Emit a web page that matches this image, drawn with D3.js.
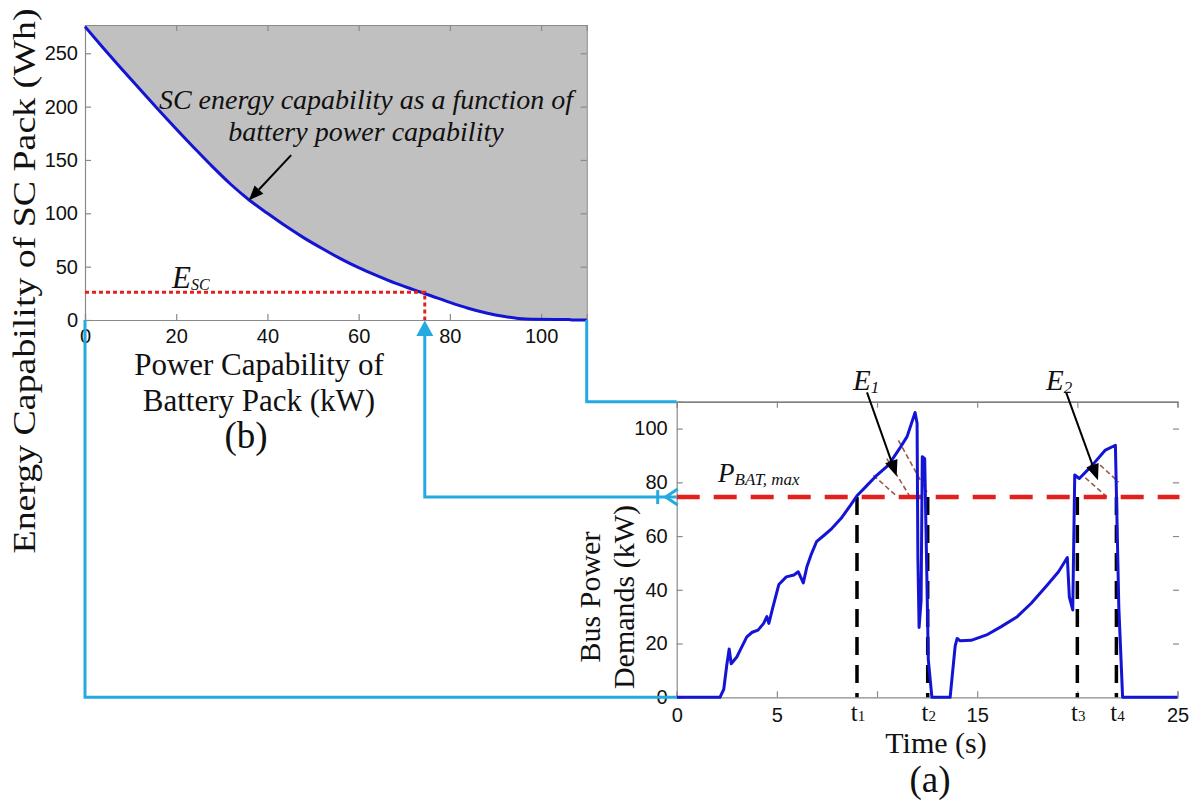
<!DOCTYPE html>
<html><head><meta charset="utf-8">
<script src="https://cdn.jsdelivr.net/npm/d3@7"></script>
<style>
html,body{margin:0;padding:0;background:#fff;}
svg{display:block;}
.serif{font-family:"Liberation Serif","Times New Roman",serif;fill:#111;}
</style></head>
<body>
<svg id="c" width="1195" height="803"></svg>
<script>
// ---------- DATA ----------
// (b) SC energy capability vs battery power capability
const powerCap = [0, 4, 8, 12, 16, 20, 24, 28, 32, 36, 40, 44, 48, 52, 56, 60, 64, 68, 72, 76, 80, 84, 88, 92, 95, 98, 106, 107, 110];
const scEnergy = [275, 255, 235.5, 216.5, 197.5, 179, 161, 143.5, 127, 112.5, 100, 88, 77, 67, 57.5, 49, 41.5, 34.5, 28.5, 22.5, 16.5, 11, 6.5, 3.2, 1.5, 0.7, 0.5, 0, 0];
const topXTicks = [0, 20, 40, 60, 80, 100];
const topYTicks = [0, 50, 100, 150, 200, 250];

// (a) Bus power demand vs time
const busTime  = [0, 2.16, 2.35, 2.5, 2.62, 2.72, 3.0, 3.3, 3.5, 3.77, 4.06, 4.34, 4.5, 4.6, 4.8, 5.1, 5.47, 5.85, 6.07, 6.32, 6.5, 6.7, 6.98, 7.36, 7.74, 8.2, 8.68, 9.0, 9.43, 10.0, 10.57, 11.13, 11.5, 11.9, 12.0, 12.04, 12.1, 12.2, 12.26, 12.38, 12.5, 12.56, 12.74, 13.65, 13.9, 14.0, 14.15, 14.7, 15.47, 16.2, 17.0, 17.7, 18.5, 19.06, 19.5, 19.6, 19.77, 19.87, 20.1, 20.75, 21.4, 21.9, 22.07, 22.26, 25];
const busPower = [0, 0, 3, 12, 18, 12.5, 15, 19.5, 22.5, 24.2, 25, 27.5, 30, 27.5, 33.5, 42, 44.8, 45.5, 46.7, 42.6, 48.6, 52.9, 57.9, 60.3, 62.8, 66.5, 71.5, 75, 78.3, 82.7, 86.4, 92.6, 97, 106, 102, 52, 26, 36, 89.5, 88.8, 40, 14, 0, 0, 19, 21.9, 21, 21.2, 23.2, 26.3, 30, 35, 41.8, 46.7, 52, 37.4, 32.5, 82.7, 81.4, 86.4, 92, 93.8, 33.7, 0, 0];
const botYTicks = [0, 20, 40, 60, 80, 100];
const botXTicks = [0, 5, 10, 15, 20, 25];
const botXTickLabels = ["0", "5", "", "15", "", "25"];
const eventTimes = [9.0, 12.53, 20.0, 21.95];
const eventNames = ["1", "2", "3", "4"];
const pBatMax = 74.5;   // kW
const eSc = 26;         // Wh
// hatch strokes of E1 and E2 (t0, P0, t1, P1)
const hatchE1 = [[9.82, 82.6, 10.99, 74.8], [10.49, 88.8, 11.65, 74.6], [11.07, 95.6, 12.49, 76.4]];
const hatchE2 = [[20.4, 81.7, 21.47, 74.6], [21.14, 86.4, 22.06, 80.1]];

// ---------- SCALES ----------
const svg = d3.select("#c");
const xTop = d3.scaleLinear().domain([0, 110]).range([85, 586.7]);
const yTop = d3.scaleLinear().domain([0, 276.5]).range([320, 25]);
const xBot = d3.scaleLinear().domain([0, 25]).range([676.7, 1177.5]);
const yBot = d3.scaleLinear().domain([0, 110]).range([697.3, 401.7]);

const BLUE = "#1414d4", CYAN = "#25a9e1", RED = "#e3211c", AX = "#8a8a8a";
const topData = powerCap.map((p, i) => [p, scEnergy[i]]);
const botData = busTime.map((t, i) => [t, busPower[i]]);

// ---------- (b) TOP CHART ----------
svg.append("path")
  .datum(topData)
  .attr("fill", "#c0c0c0")
  .attr("d", d3.area().curve(d3.curveMonotoneX).x(d => xTop(d[0])).y0(yTop(276.5)).y1(d => yTop(d[1])));

function styleAxis(g, showText) {
  g.select(".domain").attr("stroke", AX).attr("stroke-width", 1.2);
  g.selectAll(".tick line").attr("stroke", AX).attr("stroke-width", 1.2);
  g.selectAll("text").attr("font-family", '"Liberation Sans", Arial, sans-serif').attr("font-size", 20).attr("fill", "#111");
  if (!showText) g.selectAll("text").remove();
}
svg.append("g").attr("transform", `translate(0,${yTop(0)})`)
  .call(d3.axisBottom(xTop).tickValues(topXTicks).tickSize(-6).tickPadding(9).tickFormat(d3.format("d")))
  .call(g => styleAxis(g, true));
svg.append("g").attr("transform", `translate(0,${yTop(276.5)})`)
  .call(d3.axisTop(xTop).tickValues(topXTicks).tickSize(-6))
  .call(g => styleAxis(g, false));
svg.append("g").attr("transform", `translate(${xTop(0)},0)`)
  .call(d3.axisLeft(yTop).tickValues(topYTicks).tickSize(-6).tickPadding(7).tickFormat(d3.format("d")))
  .call(g => styleAxis(g, true));
svg.append("g").attr("transform", `translate(${xTop(110)},0)`)
  .call(d3.axisRight(yTop).tickValues(topYTicks).tickSize(-6))
  .call(g => styleAxis(g, false));

svg.append("path").datum(topData)
  .attr("fill", "none").attr("stroke", BLUE).attr("stroke-width", 3)
  .attr("d", d3.line().curve(d3.curveMonotoneX).x(d => xTop(d[0])).y(d => yTop(d[1])));

// red dotted E_SC guide
svg.append("path")
  .attr("fill", "none").attr("stroke", RED).attr("stroke-width", 3).attr("stroke-dasharray", "4,3")
  .attr("d", `M${xTop(0)},${yTop(eSc)}H${xTop(pBatMax)}V${yTop(0)}`);

// ---------- (a) BOTTOM CHART ----------
svg.append("g").attr("transform", `translate(0,${yBot(0)})`)
  .call(d3.axisBottom(xBot).tickValues(botXTicks).tickSize(-6).tickPadding(11).tickFormat((d, i) => botXTickLabels[i]))
  .call(g => styleAxis(g, true));
svg.append("g").attr("transform", `translate(0,${yBot(110)})`)
  .call(d3.axisTop(xBot).tickValues(botXTicks.slice(1, 5)).tickSize(-6))
  .call(g => { styleAxis(g, false); g.select(".domain").attr("stroke", "#555"); });
svg.append("g").attr("transform", `translate(${xBot(0)},0)`)
  .call(d3.axisLeft(yBot).tickValues(botYTicks).tickSize(-6).tickPadding(9).tickFormat(d3.format("d")))
  .call(g => styleAxis(g, true));
svg.append("g").attr("transform", `translate(${xBot(25) + 1.5},0)`)
  .call(d3.axisRight(yBot).tickValues(botYTicks.slice(1)).tickSize(-6))
  .call(g => { styleAxis(g, false); g.select(".domain").remove(); });

// event tick labels t1..t4
const evLab = svg.append("g").selectAll("text").data(eventTimes).join("text")
  .attr("class", "serif").attr("x", d => xBot(d) + 1).attr("y", yBot(0) + 24)
  .attr("text-anchor", "middle").attr("font-size", 25);
evLab.append("tspan").text("t");
evLab.append("tspan").attr("font-size", 15).text((d, i) => eventNames[i]);

// hatch lines
svg.append("g").selectAll("line").data(hatchE1.concat(hatchE2)).join("line")
  .attr("x1", d => xBot(d[0])).attr("y1", d => yBot(d[1]))
  .attr("x2", d => xBot(d[2])).attr("y2", d => yBot(d[3]))
  .attr("stroke", "#9a5a44").attr("stroke-width", 1.6).attr("stroke-dasharray", "5,3");

// black dashed event verticals
svg.append("g").selectAll("line").data(eventTimes).join("line")
  .attr("x1", d => xBot(d)).attr("x2", d => xBot(d))
  .attr("y1", yBot(pBatMax)).attr("y2", yBot(0))
  .attr("stroke", "#000").attr("stroke-width", 3.5).attr("stroke-dasharray", "18,10");

// red dashed P_BAT,max
svg.append("line")
  .attr("x1", xBot(0)).attr("x2", xBot(25) + 2).attr("y1", yBot(pBatMax)).attr("y2", yBot(pBatMax))
  .attr("stroke", RED).attr("stroke-width", 4.5).attr("stroke-dasharray", "23,14");

// bus power line
svg.append("path").datum(botData)
  .attr("fill", "none").attr("stroke", BLUE).attr("stroke-width", 3).attr("stroke-linejoin", "round")
  .attr("d", d3.line().x(d => xBot(d[0])).y(d => yBot(d[1])));

// ---------- CYAN CONNECTORS ----------
const cy = svg.append("g").attr("fill", "none").attr("stroke", CYAN).attr("stroke-width", 3);
cy.append("path").attr("d", `M${xTop(0)},${yTop(0)}V${yBot(0)}H${xBot(0)}`);
cy.append("path").attr("d", `M${xTop(110)},${yTop(0)}V${yBot(110)}H${xBot(0)}`);
cy.append("path").attr("d", `M${xBot(0)},${yBot(pBatMax)}H${xTop(pBatMax)}V${yTop(0) + 14}`);
// up arrowhead on top chart
svg.append("path").attr("fill", CYAN)
  .attr("d", `M${xTop(pBatMax)},${yTop(0) + 0.5}L${xTop(pBatMax) - 8.5},${yTop(0) + 16}L${xTop(pBatMax) + 8.5},${yTop(0) + 16}Z`);
// open chevron and tick at the bottom chart's axis
cy.append("path").attr("d", `M${xBot(0) + 1},${yBot(pBatMax) - 8}L${xBot(0) - 11},${yBot(pBatMax)}L${xBot(0) + 1},${yBot(pBatMax) + 8}`);
cy.append("path").attr("d", `M${xBot(0) - 19},${yBot(pBatMax) - 7}V${yBot(pBatMax) + 7}`);

// ---------- ANNOTATION ARROWS ----------
function arrow(x1, y1, x2, y2, len, half) {
  const a = Math.atan2(y2 - y1, x2 - x1);
  const bx = x2 - len * Math.cos(a), by = y2 - len * Math.sin(a);
  svg.append("line").attr("x1", x1).attr("y1", y1).attr("x2", bx).attr("y2", by)
    .attr("stroke", "#000").attr("stroke-width", 2);
  const px = -Math.sin(a) * half, py = Math.cos(a) * half;
  svg.append("path").attr("fill", "#000")
    .attr("d", `M${x2},${y2}L${bx + px},${by + py}L${bx - px},${by - py}Z`);
}
arrow(xTop(45.2), yTop(154.5), xTop(35.9), yTop(112), 15, 6);
arrow(xBot(9.5), yBot(113.5), xBot(10.98), yBot(82.3), 16, 6.5);
arrow(xBot(19.44), yBot(113.5), xBot(21.03), yBot(80.8), 16, 6.5);

// ---------- TEXT ----------
function subText(x, y, main, sub, size, subSize, italic, subDy) {
  const t = svg.append("text").attr("class", "serif").attr("x", x).attr("y", y)
    .attr("font-size", size).attr("font-style", italic ? "italic" : "normal");
  t.append("tspan").text(main);
  t.append("tspan").attr("font-size", subSize).attr("dy", subDy).text(sub);
  return t;
}
// top annotation
svg.append("text").attr("class", "serif").attr("x", 366).attr("y", 109)
  .attr("text-anchor", "middle").attr("font-size", 28).attr("font-style", "italic")
  .text("SC energy capability as a function of");
svg.append("text").attr("class", "serif").attr("x", 366).attr("y", 141)
  .attr("text-anchor", "middle").attr("font-size", 28).attr("font-style", "italic")
  .text("battery power capability");
subText(172, 288, "E", "SC", 31, 16, true, 2);
subText(718, 482, "P", "BAT, max", 27, 17, true, 3);
subText(853, 390, "E", "1", 29, 17, true, 3);
subText(1046, 390, "E", "2", 29, 17, true, 3);

// axis titles
svg.append("text").attr("class", "serif").attr("font-size", 32).attr("text-anchor", "middle")
  .attr("textLength", 545).attr("lengthAdjust", "spacingAndGlyphs")
  .attr("transform", "translate(35,281) rotate(-90)").text("Energy Capability of SC Pack (Wh)");
svg.append("text").attr("class", "serif").attr("font-size", 31).attr("text-anchor", "middle")
  .attr("x", 259).attr("y", 375).text("Power Capability of");
svg.append("text").attr("class", "serif").attr("font-size", 31).attr("text-anchor", "middle")
  .attr("x", 259).attr("y", 411).text("Battery Pack (kW)");
svg.append("text").attr("class", "serif").attr("font-size", 37).attr("text-anchor", "middle")
  .attr("x", 246).attr("y", 448).text("(b)");
svg.append("text").attr("class", "serif").attr("font-size", 30).attr("text-anchor", "middle")
  .attr("transform", "translate(600,597) rotate(-90)").text("Bus Power");
svg.append("text").attr("class", "serif").attr("font-size", 30).attr("text-anchor", "middle")
  .attr("transform", "translate(634,597) rotate(-90)").text("Demands (kW)");
svg.append("text").attr("class", "serif").attr("font-size", 30).attr("text-anchor", "middle")
  .attr("x", 936).attr("y", 753).text("Time (s)");
svg.append("text").attr("class", "serif").attr("font-size", 37).attr("text-anchor", "middle")
  .attr("x", 930).attr("y", 792).text("(a)");
</script>
</body></html>
